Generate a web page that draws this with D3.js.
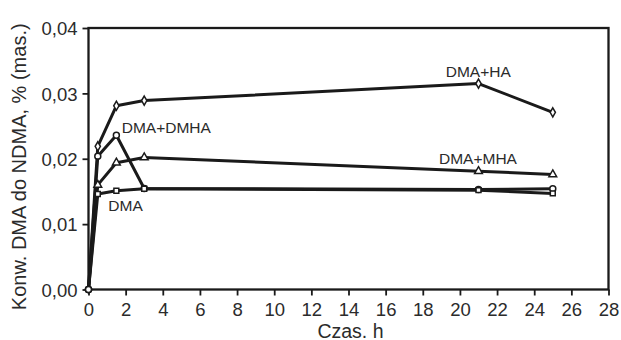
<!DOCTYPE html>
<html><head><meta charset="utf-8">
<script src="https://cdn.jsdelivr.net/npm/d3@7"></script>
<style>body{margin:0;background:#fff}svg{display:block}text{font-family:"Liberation Sans",Arial,sans-serif;fill:#2b2b2b}</style>
</head><body><svg id="c" width="621" height="340"></svg>
<script>
const hours = [0, 0.5, 1.5, 3, 21, 25];
const xTicks = [0,2,4,6,8,10,12,14,16,18,20,22,24,26,28];
const yTicks = [0, 0.01, 0.02, 0.03, 0.04];
const seriesNames = ["DMA+HA", "DMA+DMHA", "DMA+MHA", "DMA"];
const valsHA    = [0, 0.0219, 0.0281, 0.0289, 0.0315, 0.0271];
const valsDMHA  = [0, 0.0204, 0.0236, 0.01545, 0.0153, 0.0154];
const valsMHA   = [0, 0.0160, 0.0194, 0.0202, 0.0181, 0.0176];
const valsDMA   = [0, 0.0146, 0.0151, 0.0154, 0.0152, 0.0147];
const markers   = ["diamond", "circle", "triangle", "square"];
const labelPos  = [[445.7,77],[121.7,133],[439,163.5],[108.3,211]];

const svg = d3.select("#c");
const L=88.5, R=608.5, T=28, B=289.5;
const x = d3.scaleLinear().domain([0,28]).range([L,R]);
const y = d3.scaleLinear().domain([0,0.04]).range([B,T]);
const fmt = d => d3.format(".2f")(d).replace(".", ",");

svg.append("rect").attr("x",L).attr("y",T).attr("width",R-L).attr("height",B-T)
  .attr("fill","none").attr("stroke","#1a1a1a").attr("stroke-width",2.3);

const gx = svg.append("g").attr("transform",`translate(0,${B})`)
  .call(d3.axisBottom(x).tickValues(xTicks).tickSize(6).tickPadding(5).tickFormat(d3.format("d")));
const gy = svg.append("g").attr("transform",`translate(${L},0)`)
  .call(d3.axisLeft(y).tickValues(yTicks).tickSize(6).tickPadding(5).tickFormat(fmt));
[gx,gy].forEach(g=>{
  g.select(".domain").remove();
  g.selectAll(".tick line").attr("stroke","#1a1a1a").attr("stroke-width",1.8);
  g.selectAll(".tick text").style("font-size","18.5px").attr("fill","#2b2b2b");
});
gx.selectAll(".tick text").attr("y",13).attr("dy","0.71em");
gy.selectAll(".tick text").attr("dy","0.36em");

svg.append("text").attr("x",(L+R)/2+2).attr("y",337.5).attr("text-anchor","middle")
  .style("font-size","19.5px").text("Czas. h");
svg.append("text").attr("transform",`translate(26,${(T+B)/2+8}) rotate(-90)`).attr("text-anchor","middle")
  .style("font-size","20px").text("Konw. DMA do NDMA, % (mas.)");

const allVals = [valsHA, valsDMHA, valsMHA, valsDMA];
const line = d3.line().x((d,i)=>x(hours[i])).y(d=>y(d));
const symMap = {diamond:d3.symbolDiamond, circle:d3.symbolCircle, triangle:d3.symbolTriangle, square:d3.symbolSquare};
const sizeMap = {diamond:24, circle:28, triangle:26, square:24};

allVals.forEach((vals,k)=>{
  svg.append("path").datum(vals).attr("d",line).attr("fill","none")
    .attr("stroke","#1a1a1a").attr("stroke-width",3).attr("stroke-linejoin","round");
});
allVals.forEach((vals,k)=>{
  svg.selectAll(null).data(vals).enter().append("path")
    .attr("d",(d,i)=> d3.symbol().type(i===0?d3.symbolCircle:symMap[markers[k]]).size(i===0?28:sizeMap[markers[k]])())
    .attr("transform",(d,i)=>`translate(${x(hours[i])},${y(d)})`)
    .attr("fill","#fff").attr("stroke","#1a1a1a").attr("stroke-width",1.5);
});
seriesNames.forEach((n,k)=>{
  svg.append("text").attr("x",labelPos[k][0]).attr("y",labelPos[k][1])
    .style("font-size","15.5px").text(n);
});
</script></body></html>
